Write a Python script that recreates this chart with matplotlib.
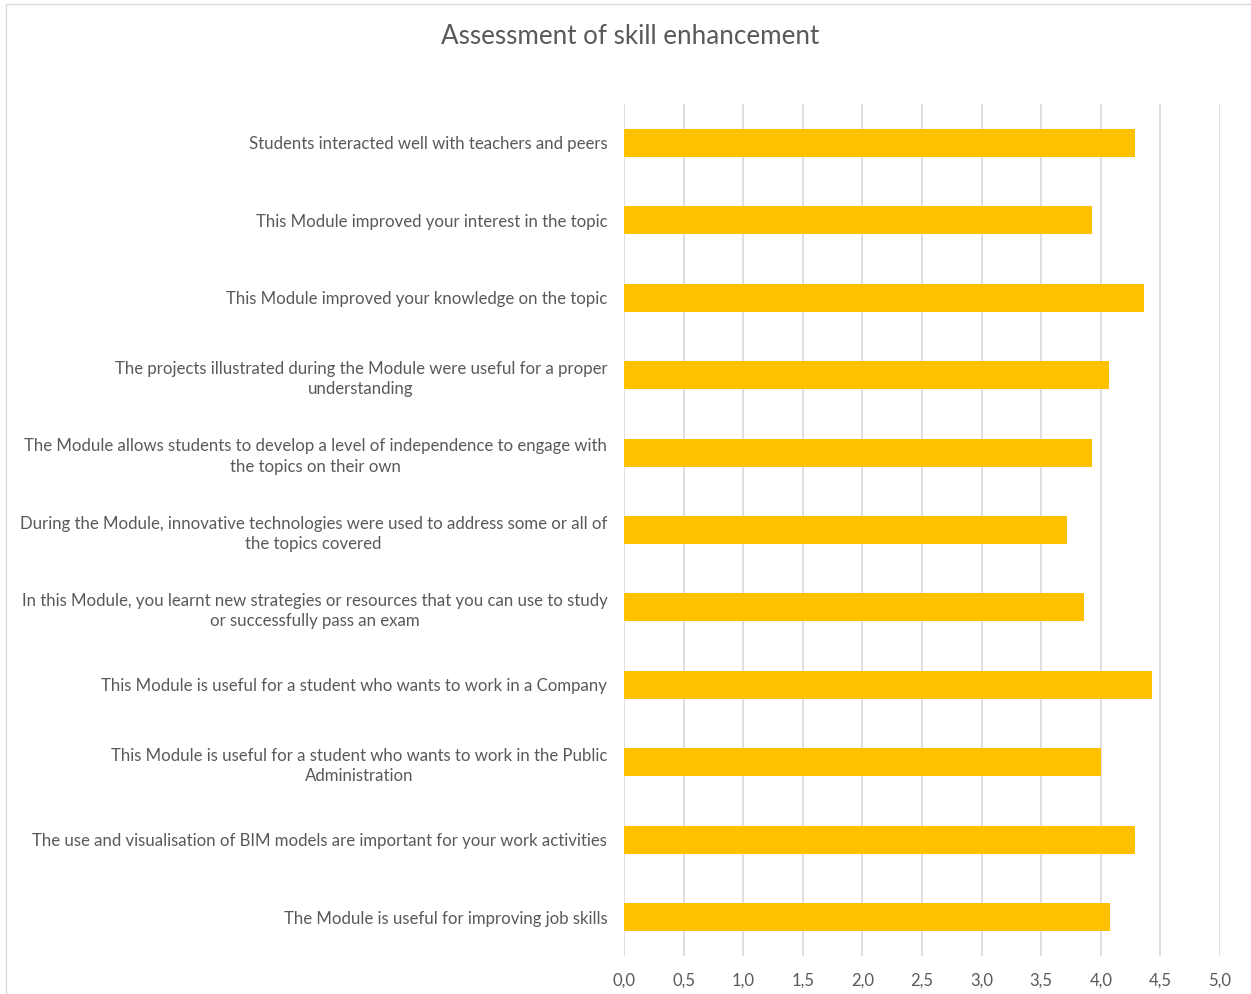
import matplotlib.pyplot as plt
from matplotlib.patches import Rectangle
from matplotlib.ticker import FuncFormatter

plt.rcParams['font.family'] = ['Lato', 'DejaVu Sans']

statements = [
    "Students interacted well with teachers and peers",
    "This Module improved your interest in the topic",
    "This Module improved your knowledge on the topic",
    "The projects illustrated during the Module were useful for a proper\nunderstanding",
    "The Module allows students to develop a level of independence to engage with\nthe topics on their own",
    "During the Module, innovative technologies were used to address some or all of\nthe topics covered",
    "In this Module, you learnt new strategies or resources that you can use to study\nor successfully pass an exam",
    "This Module is useful for a student who wants to work in a Company",
    "This Module is useful for a student who wants to work in the Public\nAdministration",
    "The use and visualisation of BIM models are important for your work activities",
    "The Module is useful for improving job skills",
]
scores = [4.29, 3.93, 4.36, 4.07, 3.93, 3.72, 3.86, 4.43, 4.00, 4.29, 4.08]
xticks = [0, 0.5, 1, 1.5, 2, 2.5, 3, 3.5, 4, 4.5, 5]

text_col = '#595959'

fig = plt.figure(figsize=(12.51, 9.94), dpi=100)
ax = fig.add_axes([0.4988, 0.0385, 0.4764, 0.8566])

ypos = list(range(len(statements)))
ax.barh(ypos, scores, height=0.36, color='#FFC000', zorder=3)
ax.set_ylim(len(statements) - 0.5, -0.5)
ax.set_xlim(0, 5)

ax.set_yticks(ypos)
ax.set_yticklabels(statements, fontsize=12.1, color=text_col,
                   multialignment='center', linespacing=1.35)
ax.set_xticks(xticks)
ax.xaxis.set_major_formatter(FuncFormatter(lambda v, p: f"{v:.1f}".replace('.', ',')))
ax.tick_params(axis='x', labelsize=12, labelcolor=text_col, length=0, pad=12)
ax.tick_params(axis='y', length=0, pad=12)

ax.grid(axis='x', color='#d9d9d9', linewidth=1.2, zorder=0)
for s in ax.spines.values():
    s.set_visible(False)

fig.text(0.504, 0.963, "Assessment of skill enhancement", ha='center', va='center',
         fontsize=18.7, color=text_col)

# outer chart frame
fig.patches.append(Rectangle((6 / 1251, -0.1), 1.2, 1 - 4 / 994 + 0.1,
                             transform=fig.transFigure, fill=False,
                             edgecolor='#d9d9d9', linewidth=1))

fig.savefig('out.png', dpi=100)
